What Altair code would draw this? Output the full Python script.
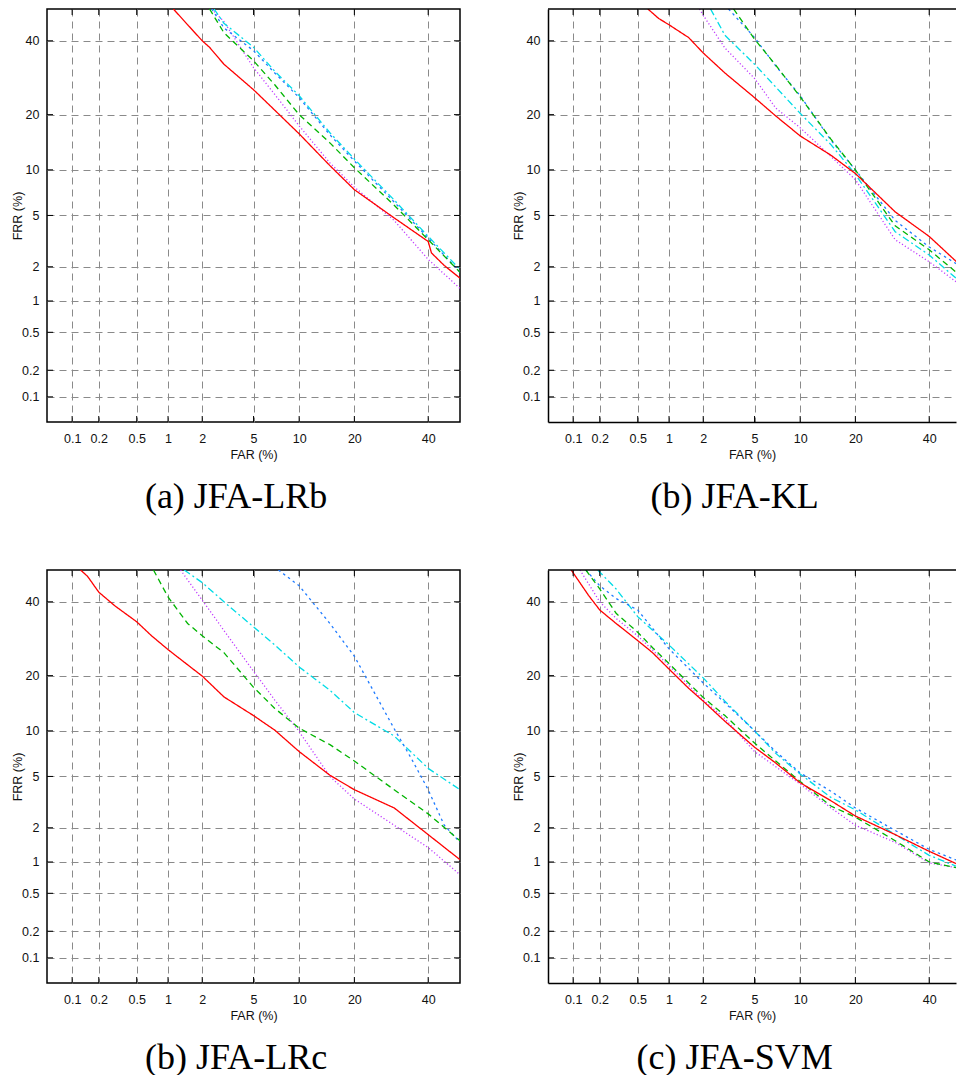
import altair as alt
import pandas as pd
from statistics import NormalDist

# ---------------- data (percent values) ----------------
TICK_VALUES = [0.1, 0.2, 0.5, 1, 2, 5, 10, 20, 40]
RANGE_PCT = [0.05, 50]

SYSTEMS = ["magenta", "cyan", "blue", "green", "red"]
COLORS = ["#c03cff", "#00dce6", "#1f7bff", "#00b400", "#ff0000"]
DASHES = [[1.2, 2.2], [7, 3, 2, 3], [2.5, 3.5], [6, 4], [1, 0]]

# (a) JFA-LRb
a_red_far = [1.12, 1.5, 2, 2.3, 3, 5, 7, 10, 15, 20, 30, 40, 41, 45, 50]
a_red_frr = [50, 45, 40, 38, 33, 26, 21, 16, 10.6, 7.5, 4.8, 3.2, 2.6, 2.05, 1.6]
a_green_far = [2.3, 3, 5, 7, 10, 15, 20, 30, 40, 50]
a_green_frr = [50, 42.5, 34, 27.3, 20, 14.3, 10.3, 5.9, 3.3, 1.8]
a_blue_far = [2.4, 3, 5, 7, 10, 15, 20, 30, 40, 50]
a_blue_frr = [50, 44, 37, 30.5, 24, 15.8, 11.3, 6.2, 3.4, 1.8]
a_cyan_far = [2.5, 3, 5, 7, 10, 15, 20, 30, 40, 50]
a_cyan_frr = [50, 45.5, 38, 31, 24.5, 16.2, 11.6, 6.4, 3.5, 1.9]
a_magenta_far = [2.4, 3, 5, 7, 10, 15, 20, 30, 40, 50]
a_magenta_frr = [50, 46, 32, 24.8, 17.6, 11, 7.8, 4.6, 2.3, 1.3]

# (b) JFA-KL
b_red_far = [0.63, 0.8, 1, 1.5, 2, 3, 5, 7, 10, 15, 20, 30, 40, 49]
b_red_frr = [50, 47, 45, 41, 36.3, 30.5, 24, 19.7, 15.6, 12.2, 9.5, 5.3, 3.5, 2.15]
b_green_far = [3.5, 5, 7, 10, 15, 20, 30, 40, 49]
b_green_frr = [50, 40.5, 32.7, 24.2, 15, 10, 4.2, 2.75, 1.75]
b_blue_far = [3.2, 5, 7, 10, 15, 20, 30, 40, 49]
b_blue_frr = [50, 41, 32.5, 24.5, 14.8, 10, 4.6, 2.9, 2.08]
b_cyan_far = [2.3, 3, 5, 7, 10, 15, 20, 30, 40, 49]
b_cyan_frr = [50, 41.7, 33, 26.7, 20.3, 14, 9.4, 3.8, 2.5, 1.55]
b_magenta_far = [1.86, 2, 3, 5, 7, 10, 15, 20, 30, 40, 49]
b_magenta_frr = [50, 48, 37.8, 29, 21.5, 17.2, 12, 8.7, 3.3, 2.2, 1.45]

# (b) JFA-LRc
c_red_far = [0.125, 0.15, 0.2, 0.3, 0.5, 0.7, 1, 1.5, 2, 3, 5, 7, 10, 15, 20, 30, 40, 50]
c_red_frr = [50, 48, 43, 38.7, 34, 30, 26.3, 22.5, 19.9, 15.6, 12.3, 10.1, 7.4, 5.1, 4.0, 2.9, 1.75, 1.05]
c_green_far = [0.73, 1, 1.5, 2, 3, 5, 7, 10, 15, 20, 30, 40, 50]
c_green_frr = [50, 41.5, 33.5, 30, 25.5, 17.5, 13.5, 10.4, 8.2, 6.4, 4.0, 2.6, 1.55]
c_blue_far = [7.4, 10, 15, 20, 30, 35, 40, 45, 50]
c_blue_frr = [50, 45, 33.5, 24.6, 10.3, 6.6, 4, 2.1, 1.5]
c_cyan_far = [1.4, 2, 3, 5, 7, 10, 15, 20, 30, 40, 50]
c_cyan_frr = [50, 46, 40, 32.5, 27.5, 22, 16.9, 12.8, 9.3, 5.7, 4]
c_magenta_far = [1.3, 2, 3, 5, 7, 10, 15, 20, 30, 40, 50]
c_magenta_frr = [50, 40.5, 31.5, 21, 15, 9.9, 5, 3.4, 2.1, 1.35, 0.76]

# (c) JFA-SVM
d_red_far = [0.095, 0.15, 0.2, 0.3, 0.5, 0.7, 1, 1.5, 2, 3, 5, 7, 10, 15, 20, 30, 40, 49]
d_red_frr = [50, 42, 37.5, 33.5, 28.7, 25.5, 21.5, 17.3, 14.8, 11.4, 7.9, 6.2, 4.5, 3.3, 2.5, 1.75, 1.25, 0.95]
d_green_far = [0.14, 0.2, 0.3, 0.5, 0.7, 1, 1.5, 2, 3, 5, 7, 10, 15, 20, 30, 40, 49]
d_green_frr = [50, 44, 36.5, 31, 26.8, 22.8, 18.4, 15.5, 12.3, 8.4, 6.4, 4.6, 3.0, 2.45, 1.55, 1.0, 0.88]
d_blue_far = [0.14, 0.2, 0.3, 0.5, 1, 2, 3, 5, 7, 10, 15, 20, 30, 40, 49]
d_blue_frr = [50, 45, 41, 37.5, 26.5, 18.4, 14.5, 10, 7.4, 5.3, 3.9, 2.9, 1.9, 1.3, 1.03]
d_cyan_far = [0.19, 0.3, 0.5, 1, 2, 3, 5, 7, 10, 15, 20, 30, 40, 49]
d_cyan_frr = [50, 44, 35.5, 27.5, 19.5, 14.8, 10, 7.2, 5.2, 3.5, 2.8, 1.75, 1.15, 0.9]
d_magenta_far = [0.12, 0.2, 0.3, 0.5, 1, 2, 3, 5, 10, 15, 20, 30, 40, 49]
d_magenta_frr = [50, 40, 35, 30, 22.3, 15, 11.8, 7.4, 4.4, 2.9, 2.1, 1.5, 0.98, 0.88]

CAPTIONS = {"a": "(a) JFA-LRb", "b": "(b) JFA-KL", "c": "(b) JFA-LRc", "d": "(c) JFA-SVM"}

# ---------------- build table ----------------
src = {
    "a": {"red": (a_red_far, a_red_frr), "green": (a_green_far, a_green_frr), "blue": (a_blue_far, a_blue_frr),
          "cyan": (a_cyan_far, a_cyan_frr), "magenta": (a_magenta_far, a_magenta_frr)},
    "b": {"red": (b_red_far, b_red_frr), "green": (b_green_far, b_green_frr), "blue": (b_blue_far, b_blue_frr),
          "cyan": (b_cyan_far, b_cyan_frr), "magenta": (b_magenta_far, b_magenta_frr)},
    "c": {"red": (c_red_far, c_red_frr), "green": (c_green_far, c_green_frr), "blue": (c_blue_far, c_blue_frr),
          "cyan": (c_cyan_far, c_cyan_frr), "magenta": (c_magenta_far, c_magenta_frr)},
    "d": {"red": (d_red_far, d_red_frr), "green": (d_green_far, d_green_frr), "blue": (d_blue_far, d_blue_frr),
          "cyan": (d_cyan_far, d_cyan_frr), "magenta": (d_magenta_far, d_magenta_frr)},
}
rows = []
for pk, series in src.items():
    for s in SYSTEMS:
        far, frr = series[s]
        for i, (x, y) in enumerate(zip(far, frr)):
            rows.append({"panel": pk, "sys": s, "i": i, "far": x, "frr": y})
df = pd.DataFrame(rows)
ticks_df = pd.DataFrame({"v": TICK_VALUES})
one_df = pd.DataFrame({"k": [0]})

# ---------------- normal-deviate (DET) scale helpers ----------------
nd = NormalDist()
P_LO = nd.inv_cdf(RANGE_PCT[0] / 100)
P_HI = nd.inv_cdf(RANGE_PCT[1] / 100)
H = 413
PX_PER_UNIT = H / (P_HI - P_LO)
tick_pos = [nd.inv_cdf(v / 100) for v in TICK_VALUES]
label_expr = "round(cumulativeNormal(datum.value) * 1000) / 10 + ''"


def make_panel(key, width, open_right):
    xmax = P_LO + width / PX_PER_UNIT
    xs = alt.Scale(domain=[P_LO, xmax], nice=False, zero=False)
    ys = alt.Scale(domain=[P_LO, P_HI], nice=False, zero=False)
    dom = dict(domain=True, domainColor="black", domainWidth=1.5) if open_right else dict(domain=False)
    xaxis = alt.Axis(values=tick_pos, labelExpr=label_expr, title="FAR (%)", labelOverlap=False,
                     labelPadding=10, titlePadding=4, **dom)
    yaxis = alt.Axis(values=tick_pos, labelExpr=label_expr, title="FRR (%)", labelOverlap=False,
                     labelPadding=8, titlePadding=-3, **dom)
    d = df[df.panel == key]
    lines = alt.Chart(d).transform_calculate(
        px="quantileNormal(datum.far / 100)", py="quantileNormal(datum.frr / 100)"
    ).mark_line(clip=True, strokeWidth=1.3).encode(
        x=alt.X("px:Q", scale=xs, axis=xaxis),
        y=alt.Y("py:Q", scale=ys, axis=yaxis),
        color=alt.Color("sys:N", scale=alt.Scale(domain=SYSTEMS, range=COLORS), legend=None),
        strokeDash=alt.StrokeDash("sys:N", scale=alt.Scale(domain=SYSTEMS, range=DASHES), legend=None),
        order=alt.Order("i:Q"),
    )
    tb = alt.Chart(ticks_df).transform_calculate(
        px="quantileNormal(datum.v / 100)", py="quantileNormal(datum.v / 100)")
    tl = 6
    layers = [lines]
    layers.append(tb.mark_rule(color="black", strokeWidth=1).encode(
        y=alt.Y("py:Q", scale=ys, axis=yaxis), x=alt.value(0), x2=alt.value(tl)))
    if not open_right:
        layers.append(tb.mark_rule(color="black", strokeWidth=1).encode(
            y=alt.Y("py:Q", scale=ys, axis=yaxis), x=alt.value(width - tl), x2=alt.value(width)))
    layers.append(tb.mark_rule(color="black", strokeWidth=1).encode(
        x=alt.X("px:Q", scale=xs, axis=xaxis), y=alt.value(H - tl), y2=alt.value(H)))
    layers.append(tb.mark_rule(color="black", strokeWidth=1).encode(
        x=alt.X("px:Q", scale=xs, axis=xaxis), y=alt.value(0), y2=alt.value(tl)))
    props = dict(
        width=width, height=H,
        title=alt.TitleParams(CAPTIONS[key], orient="bottom", anchor="middle", frame="bounds",
                              font="Liberation Serif", fontSize=36, fontWeight="normal",
                              color="black", offset=19),
    )
    if open_right:
        layers.append(alt.Chart(one_df).mark_rule(color="black", strokeWidth=1.5).encode(
            x=alt.value(0), x2=alt.value(width), y=alt.value(0)))
        props["view"] = alt.ViewBackground(stroke="transparent", strokeWidth=0)
    return alt.layer(*layers).properties(**props)


WL = 413
WR = 408
top = alt.hconcat(make_panel("a", WL, False), make_panel("b", WR, True), spacing=50)
bottom = alt.hconcat(make_panel("c", WL, False), make_panel("d", WR, True), spacing=50)
chart = alt.vconcat(top, bottom, spacing=52).properties(
    padding={"left": 10, "top": 7, "right": 0, "bottom": 0},
    background="white",
).configure_axis(
    ticks=False, grid=True, gridColor="#8a8a8a", gridDash=[7, 5], gridWidth=1,
    labelFont="Liberation Sans", labelFontSize=12.5, labelColor="#111",
    titleFont="Liberation Sans", titleFontSize=12.5, titleFontWeight="normal", titleColor="#111",
).configure_view(stroke="black", strokeWidth=1.5)

chart.save("out.html", embed_options={"renderer": "svg", "actions": False})
